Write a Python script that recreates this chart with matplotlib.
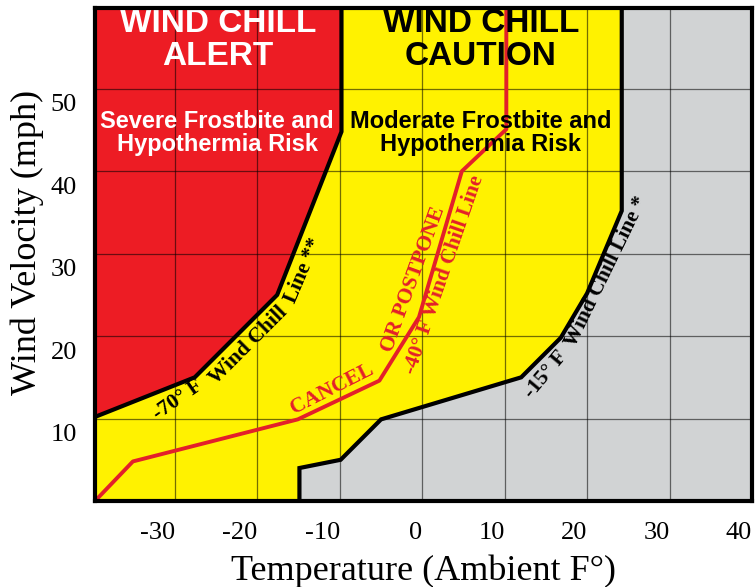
import matplotlib.pyplot as plt
from matplotlib.transforms import ScaledTranslation

# chart limits (temperature F, wind mph)
t_lim = (-39.7, 40.0)
v_lim = (0, 59.8)

# -70 F wind chill line (edge of the red "alert" zone)
line70_temp = [-39.7, -27.6, -17.6, -9.8, -9.8]
line70_wind = [10.2, 15.0, 25.0, 44.8, 59.8]

# -15 F wind chill line (edge of the grey zone)
line15_temp = [-14.9, -14.9, -9.9, -5.0, 12.0, 16.8, 20.0, 24.2, 24.2]
line15_wind = [0, 4.0, 5.0, 9.9, 15.0, 19.8, 25.2, 35.2, 59.8]

# -40 F wind chill line (cancel or postpone)
line40_temp = [-39.7, -35.1, -15.1, -5.2, -0.4, 4.8, 10.2, 10.2]
line40_wind = [0, 4.8, 9.9, 14.6, 22.3, 40.0, 45.1, 59.8]

xticks = [-30, -20, -10, 0, 10, 20, 30, 40]
yticks = [10, 20, 30, 40, 50]

RED = '#ED1C24'
YELLOW = '#FFF200'
GREY = '#D1D3D4'
LINE_RED = '#E3202A'

fig = plt.figure(figsize=(7.55, 5.87), dpi=100)
ax = fig.add_axes([95/755, 1 - 501/587, 657/755, 493/587])
ax.set_facecolor(YELLOW)
ax.set_xlim(*t_lim)
ax.set_ylim(*v_lim)

ax.fill(line70_temp + [t_lim[0]], line70_wind + [v_lim[1]], color=RED, lw=0, zorder=1)
ax.fill(line15_temp + [t_lim[1], t_lim[1]], line15_wind + [v_lim[1], 0],
        color=GREY, lw=0, zorder=1)

ax.plot(line70_temp, line70_wind, color='black', lw=3, zorder=3, solid_joinstyle='miter')
ax.plot(line15_temp, line15_wind, color='black', lw=3, zorder=3, solid_joinstyle='miter')
ax.plot(line40_temp, line40_wind, color=LINE_RED, lw=2.8, zorder=4)

ax.set_axisbelow(False)
ax.grid(True, color='black', alpha=0.55, lw=0.9)
for s in ax.spines.values():
    s.set_linewidth(3)
    s.set_zorder(6)

serif = 'Liberation Serif'
sans = 'Liberation Sans'

ax.set_xticks(xticks)
ax.set_xticklabels([str(t) for t in xticks], ha='right', family=serif, fontsize=19)
ax.set_yticks(yticks)
ax.set_yticklabels([str(v) for v in yticks], family=serif, fontsize=19)
ax.tick_params(length=0)
ax.tick_params(axis='x', pad=15)
ax.tick_params(axis='y', pad=13)
for lbl in ax.get_yticklabels():
    lbl.set_transform(lbl.get_transform() + ScaledTranslation(0, -14/100, fig.dpi_scale_trans))

ax.set_xlabel('Temperature (Ambient F°)', family=serif, fontsize=26)
ax.set_ylabel('Wind Velocity (mph)', family=serif, fontsize=26)
ax.xaxis.set_label_coords(0.5, -0.108)
ax.yaxis.set_label_coords(-0.077, 0.525)

# zone headings
ax.text(-24.8, 55.9, 'WIND CHILL\nALERT', color='white', family=sans, weight='bold',
        fontsize=24, ha='center', va='center', linespacing=1.1, zorder=5)
ax.text(7.1, 55.9, 'WIND CHILL\nCAUTION', color='black', family=sans, weight='bold',
        fontsize=24, ha='center', va='center', linespacing=1.1, zorder=5)
ax.text(-24.9, 44.6, 'Severe Frostbite and\nHypothermia Risk', color='white', family=sans,
        weight='bold', fontsize=17, ha='center', va='center', linespacing=1.0, zorder=5)
ax.text(7.1, 44.6, 'Moderate Frostbite and\nHypothermia Risk', color='black', family=sans,
        weight='bold', fontsize=17, ha='center', va='center', linespacing=1.0, zorder=5)

# labels along the lines
def along(x, y, s, rot, color='black'):
    ax.text(x, y, s, rotation=rot, rotation_mode='anchor', ha='center', va='center',
            color=color, family=serif, weight='bold', fontsize=15.5, zorder=5)

along(-29.6, 12.3, '-70° F', 35)
along(-21.1, 18.9, 'Wind Chill', 45)
along(-14.4, 28.0, 'Line **', 67)

along(-10.9, 13.6, 'CANCEL', 27, LINE_RED)
along(-1.1, 26.9, 'OR POSTPONE', 70, LINE_RED)
along(2.7, 27.5, '-40° F Wind Chill Line', 71, LINE_RED)

along(15.0, 15.4, '-15° F', 50)
along(22.4, 27.8, 'Wind Chill Line *', 64)

fig.savefig('out.png', dpi=100)
